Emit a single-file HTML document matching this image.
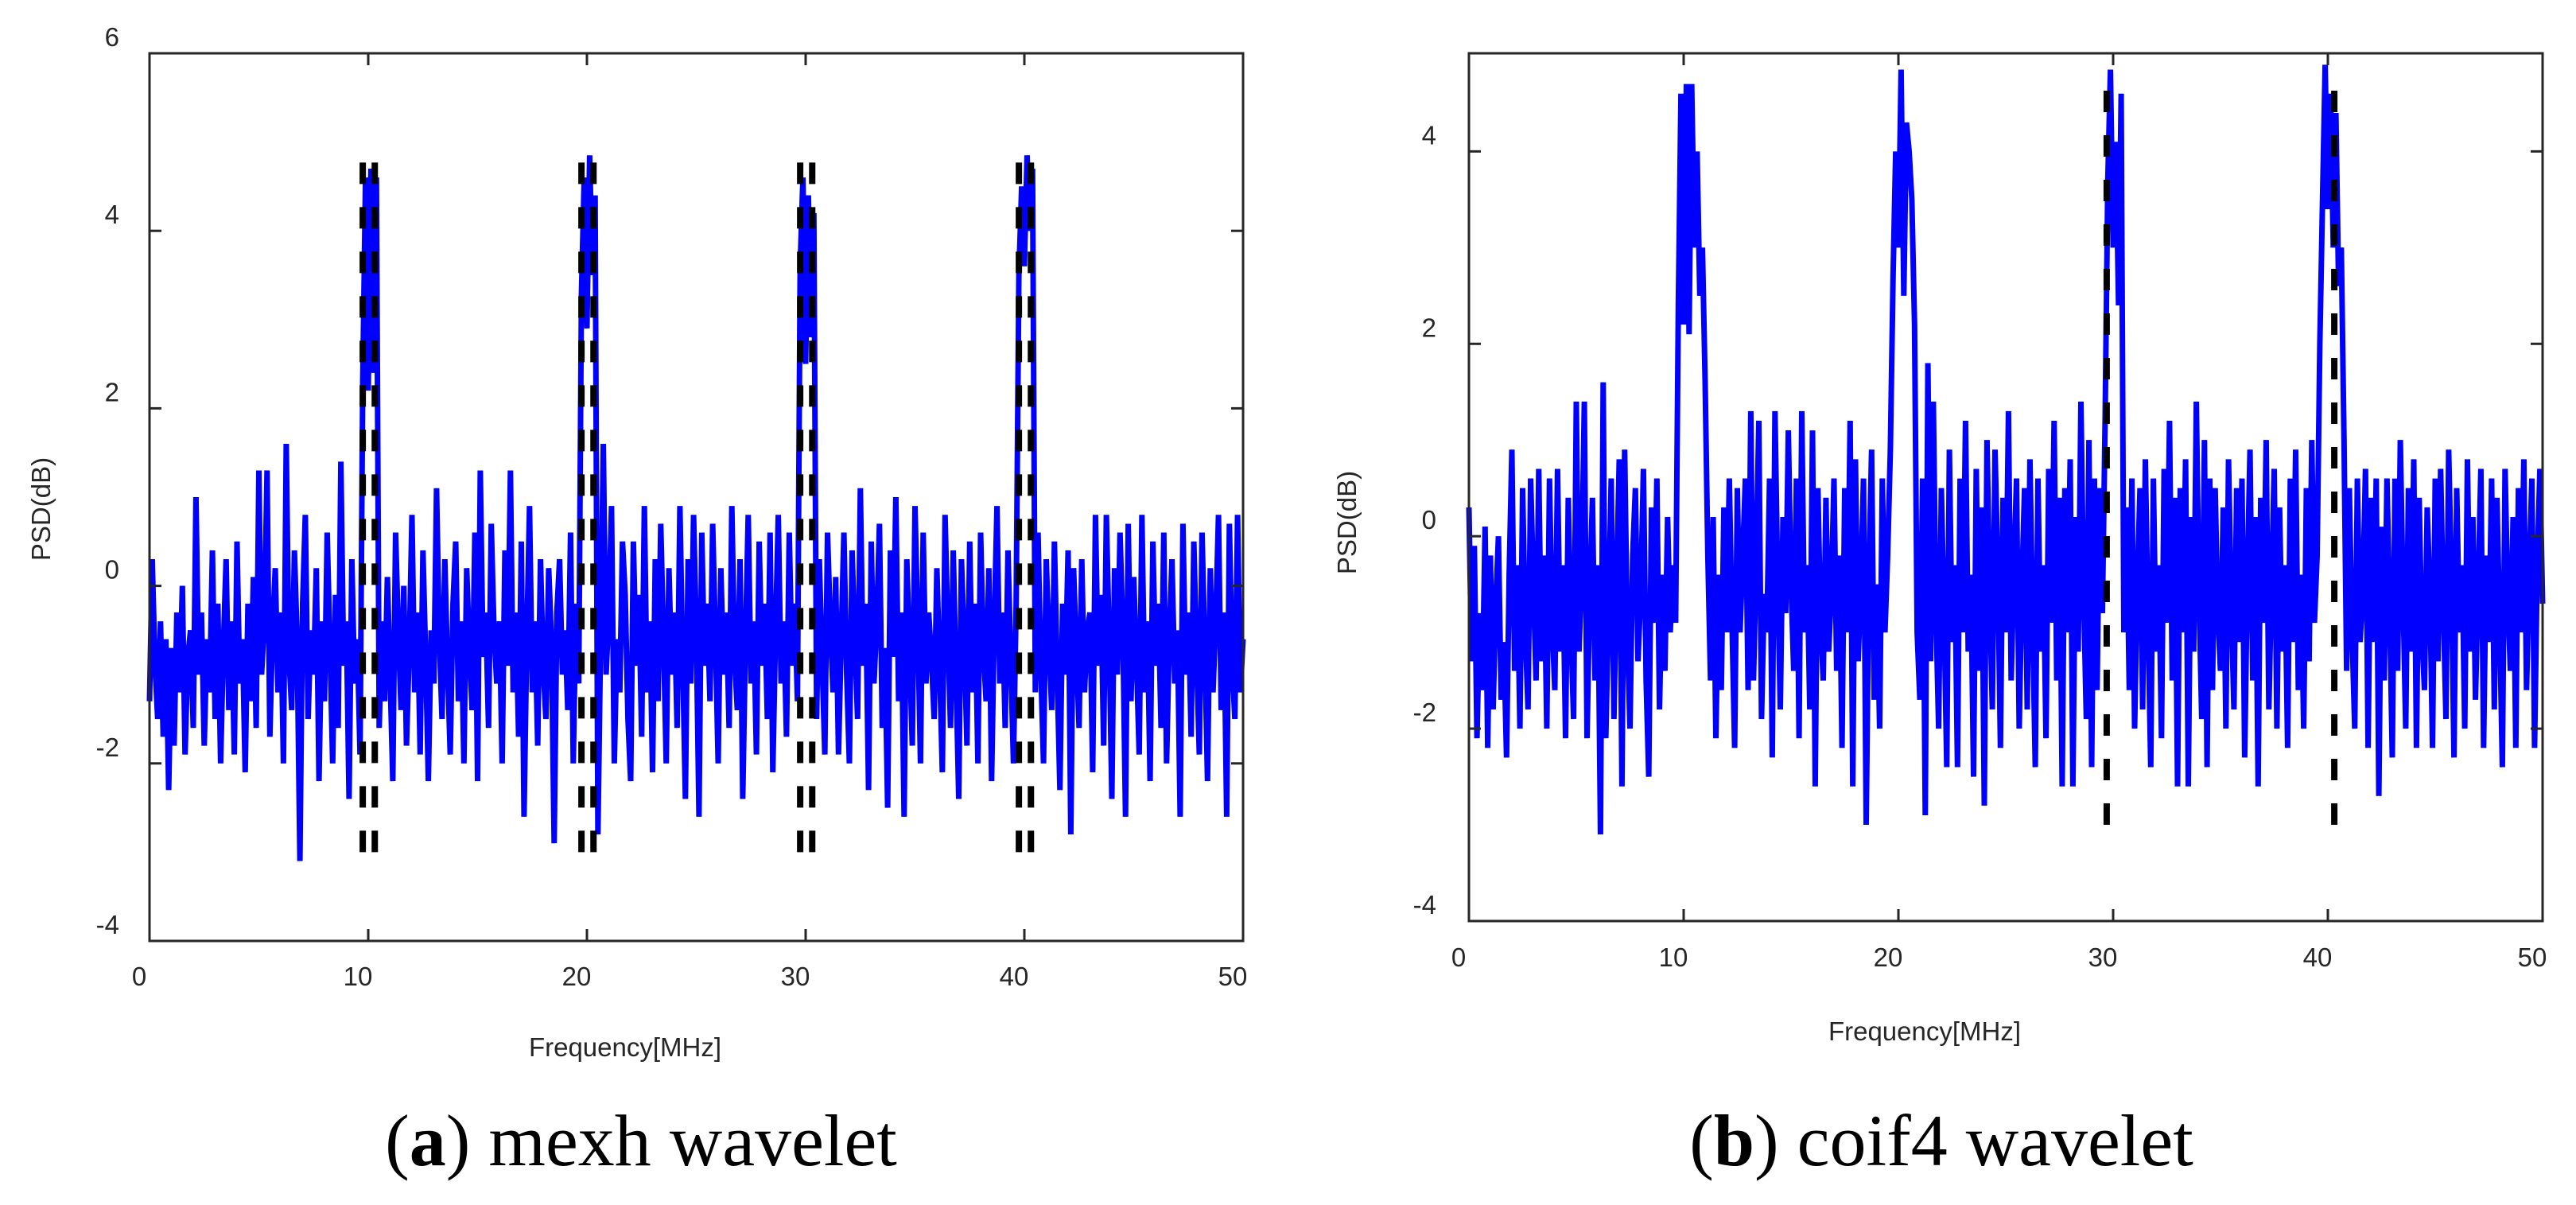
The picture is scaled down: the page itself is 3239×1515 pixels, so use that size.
<!DOCTYPE html>
<html>
<head>
<meta charset="utf-8">
<style>
  html, body { margin: 0; padding: 0; background: #ffffff; }
  svg { display: block; }
  .tick { font-family: "Liberation Sans", sans-serif; font-size: 33px; fill: #262626; }
  .cap { font-family: "Liberation Serif", serif; font-size: 92px; fill: #000; }
</style>
</head>
<body>
<svg id="fig" width="3239" height="1515" viewBox="0 0 3239 1515" xmlns="http://www.w3.org/2000/svg">
  <g id="panelA"></g>
  <g id="panelB"></g>
  <text class="cap" x="806" y="1465" text-anchor="middle">(<tspan font-weight="bold">a</tspan>) mexh wavelet</text>
  <text class="cap" x="2441" y="1465" text-anchor="middle">(<tspan font-weight="bold">b</tspan>) coif4 wavelet</text>
</svg>
<script>
// ---- data: PSD sampled every 0.125 MHz from 0 to 50 (8 samples per MHz per row) ----
const freqStep = 0.125;
const psdMexh = [
-1.3,0.3,-0.9,-1.5,-0.4,-1.7,-0.6,-2.3,
-0.7,-1.8,-0.3,-1.2,0.0,-1.9,-0.8,-0.5,
-1.6,1.0,-1.0,-0.3,-1.8,-0.6,-1.2,0.4,
-1.5,-0.2,-2.0,-0.7,0.3,-1.4,-0.4,-1.9,
0.5,-1.1,-0.6,-2.1,-0.2,-1.3,0.1,-1.6,
1.3,-1.0,-0.4,1.3,-1.7,-0.5,0.2,-1.2,
-0.3,-2.0,1.6,-0.8,-1.4,0.4,-0.6,-3.1,
-0.2,0.8,-1.5,-0.5,-1.0,0.2,-2.2,-0.4,
-1.3,0.6,-0.7,-2.0,-0.1,-1.6,1.4,-0.9,
-0.4,-2.4,0.3,-1.1,-0.6,-1.9,2.3,4.6,
2.2,4.7,2.4,4.6,-1.6,-0.4,-1.3,0.1,
-1.0,-2.2,0.6,-0.5,-1.4,0.0,-1.8,-0.7,
0.8,-1.2,-0.3,-1.9,0.4,-0.8,-2.2,-0.5,
-1.1,1.1,-0.6,-1.5,0.3,-0.9,-1.9,-0.2,
0.5,-1.3,-0.4,-2.0,0.2,-0.7,-1.4,0.6,
-2.2,1.3,-0.8,-0.3,-1.6,0.7,-0.5,-1.1,
-0.4,-2.0,0.4,-0.9,1.3,-1.2,-0.3,-1.7,
0.5,-2.6,-0.6,0.9,-1.2,-0.4,-1.8,0.3,
-0.9,-1.5,0.2,-0.6,-2.9,-0.3,0.3,-1.0,
-0.5,-1.4,0.6,-2.0,-0.2,-1.1,3.3,4.6,
2.9,4.85,3.5,4.4,-2.8,-0.6,1.6,-1.0,
-0.3,0.9,-2.0,-0.6,-1.2,0.5,-0.1,-1.5,
-2.2,0.5,-0.9,-0.1,-1.7,0.9,-1.2,-0.4,
-2.1,0.3,-1.3,0.7,-0.6,-2.0,0.2,-1.0,
-0.3,-1.6,0.9,-0.8,-2.4,0.3,-1.1,0.8,
-0.5,-2.6,0.6,-0.9,-0.2,-1.3,0.7,-0.6,
-2.0,0.2,-1.0,-0.3,-1.6,0.9,-0.8,-1.4,
0.3,-2.4,-0.6,0.8,-1.1,-0.4,-1.9,0.5,
-0.9,-0.2,-1.5,0.6,-2.1,-0.5,0.8,-1.1,
-0.4,-1.7,0.6,-0.9,-0.2,-1.3,3.6,4.6,
2.5,4.4,2.8,4.2,-1.5,0.3,-0.8,-1.9,
0.6,-0.4,-1.2,0.1,-1.9,-0.6,0.6,-1.0,
-2.0,0.4,-0.6,-1.5,1.1,-0.9,-0.2,-2.3,
0.5,-1.1,-0.4,0.7,-1.6,-0.7,-2.5,0.4,
-0.8,1.0,-1.3,-0.3,-2.6,0.3,-0.7,-1.8,
0.9,-0.4,-2.0,0.6,-1.1,-0.3,-0.8,-1.5,
0.2,-0.9,-2.1,0.8,-0.5,-1.6,0.4,-1.0,
-2.4,0.3,-0.6,-1.8,0.5,-1.2,-0.2,-2.0,
0.6,-0.7,-1.3,0.2,-2.2,-0.4,0.9,-1.1,
-0.3,-1.6,0.4,-0.8,-2.0,-0.2,3.5,4.5,
3.6,4.85,4.0,4.7,-1.2,0.6,-0.9,-2.0,
0.3,-0.6,-1.4,0.5,-1.0,-2.3,-0.2,-1.0,
0.4,-2.8,0.2,-0.7,-1.6,0.3,-1.2,-0.5,
-0.3,-2.1,0.8,-0.9,-0.1,-1.8,0.8,-0.6,
-2.4,0.2,-1.0,0.6,-0.5,-2.6,0.7,-1.3,
0.1,-0.8,-1.9,0.8,-1.2,-0.4,-2.2,0.5,
-0.9,-0.2,-1.6,0.6,-2.0,-0.6,0.3,-1.1,
-0.5,-2.6,0.7,-1.0,-0.3,-1.7,0.5,-0.8,
-1.9,0.6,-0.7,-2.2,0.2,-1.2,-0.4,0.8,
-1.4,-0.3,-2.6,0.7,-0.9,-1.5,0.8,-1.2,
-0.6
];
const psdCoif4 = [
0.3,-1.3,-0.1,-2.1,-0.8,-1.6,0.1,-2.2,
-0.2,-1.8,-0.7,0.0,-1.7,-1.1,-2.3,-0.4,
0.9,-1.4,-0.3,-2.0,0.5,-1.0,-1.8,0.6,
-0.5,-1.5,0.7,-1.3,-0.2,-2.0,0.6,-0.9,
-1.6,0.7,-1.2,-0.3,-2.1,0.4,-1.0,-1.9,
1.4,-1.2,-0.4,1.4,-2.1,-0.6,0.4,-1.5,
-0.3,-3.1,1.6,-2.1,-0.8,0.6,-1.9,-0.5,
0.8,-2.6,0.9,-1.0,-2.0,-0.2,0.5,-1.3,
-0.6,0.7,-1.5,-2.5,0.3,-0.9,0.6,-1.8,
-0.4,-1.4,0.2,-1.0,-0.3,-0.9,2.4,4.6,
2.2,4.7,2.1,4.7,3.0,4.0,2.5,3.0,
1.6,-0.2,-1.5,0.2,-2.1,-0.4,-1.6,0.3,
-1.0,0.6,-0.9,-2.2,0.5,-1.0,-0.2,0.6,
-1.6,1.3,-1.5,-0.3,1.2,-1.9,-0.6,-1.0,
0.6,-2.3,1.3,-0.4,-1.8,0.2,-0.8,1.1,
-0.5,-1.4,0.6,-2.1,1.3,-1.0,-0.3,-1.8,
1.1,-2.6,0.5,-0.9,-1.5,0.4,-1.2,-0.6,
0.6,-1.4,-0.2,-2.2,0.5,-1.0,1.2,-2.6,
0.8,-1.3,-0.5,0.6,-3.0,-0.4,0.9,-1.7,
-0.5,-2.0,0.6,-1.0,-0.2,0.9,2.7,4.0,
3.0,4.85,2.5,4.3,4.0,3.5,2.2,-1.0,
-1.7,0.6,-2.9,1.8,-1.3,1.4,-0.8,-2.0,
0.5,-0.8,-2.4,0.9,-1.1,-0.3,-2.4,0.6,
-1.0,1.2,-1.2,-0.4,-2.5,0.7,-1.4,0.3,
-2.8,1.0,-0.6,-1.8,0.9,-0.3,-2.2,0.4,
-1.0,1.3,-1.5,-0.4,0.6,-2.0,-0.5,0.5,
-1.8,0.8,-0.9,-2.4,0.6,-1.2,-0.3,-2.1,
0.7,-0.9,1.2,-1.5,0.4,-2.6,0.5,-1.0,
0.8,-2.6,0.2,-1.2,1.4,-0.6,-1.9,1.0,
-2.4,0.6,-1.6,0.5,-0.8,1.2,3.7,4.85,
3.0,4.1,2.4,4.6,-1.0,0.3,-1.6,0.6,
-2.0,-0.5,0.5,-1.8,0.8,-0.9,-2.4,0.6,
-1.2,-0.3,-2.1,0.7,-0.9,1.2,-1.5,0.4,
-2.6,0.5,-1.0,0.8,-2.6,0.2,-1.2,1.4,
-0.6,-1.9,1.0,-2.4,0.6,-1.6,0.5,-0.8,
-1.4,0.3,-2.0,0.8,-0.7,-1.8,0.5,-1.1,
0.6,-2.3,-0.4,0.9,-1.5,0.2,-2.6,0.4,
-0.9,1.0,-1.8,-0.5,0.7,-2.0,0.3,-1.2,
-0.3,-2.2,0.6,-1.1,0.9,-1.6,-0.4,-2.0,
0.5,-1.3,1.0,-0.9,-0.2,2.0,3.5,4.9,
3.4,4.6,3.0,4.4,2.6,3.0,1.0,-1.4,
0.5,-1.0,-2.0,0.6,-1.1,-0.6,0.7,-2.2,
0.4,-1.1,0.6,-2.7,0.1,-1.5,0.6,-0.7,
-2.3,0.6,-1.4,1.0,-0.6,-2.0,0.5,-1.2,
0.8,-2.2,0.4,-1.0,-1.6,0.3,-0.6,-2.2,
0.6,-1.3,0.7,-0.7,-1.9,0.9,-0.4,-2.3,
0.5,-1.0,-0.3,-2.0,0.8,-1.2,0.2,-1.7,
-0.5,0.7,-2.2,-0.2,-1.1,0.6,-1.8,0.4,
-0.9,-2.4,0.7,-0.6,-1.4,0.2,-2.2,0.5,
-1.0,0.8,-1.6,-0.4,0.6,-2.2,-0.3,0.7,
-0.7
];
// reference (dashed) lines
const dashFreqA = [9.75, 10.3, 19.75, 20.3, 29.75, 30.3, 39.75, 40.3];
const dashFreqB = [29.7, 40.3];
const dashTop = 4.85;
const dashBottom = -3.0;
// ticks
const xTicks = [0, 10, 20, 30, 40, 50];
const xTickLabels = ["0", "10", "20", "30", "40", "50"];
const yTicksA = [-4, -2, 0, 2, 4, 6];
const yTickLabelsA = ["-4", "-2", "0", "2", "4", "6"];
const yTicksB = [-4, -2, 0, 2, 4];
const yTickLabelsB = ["-4", "-2", "0", "2", "4"];

const NS = "http://www.w3.org/2000/svg";
function mk(tag, attrs, parent) {
  const e = document.createElementNS(NS, tag);
  for (const k in attrs) e.setAttribute(k, attrs[k]);
  parent.appendChild(e);
  return e;
}

function drawPanel(g, cfg) {
  const sx = v => cfg.left + (v - cfg.xMin) / (cfg.xMax - cfg.xMin) * (cfg.right - cfg.left);
  const sy = v => cfg.bottom - (v - cfg.yMin) / (cfg.yMax - cfg.yMin) * (cfg.bottom - cfg.top);

  const pts = cfg.series.map((v, i) => sx(i * freqStep).toFixed(1) + "," + sy(v).toFixed(1)).join(" ");
  const line = mk("polyline", {points: pts, fill: "none", stroke: "#0000ff", "stroke-width": 7, "stroke-linejoin": "miter", "stroke-miterlimit": 3}, g);
  
  

  cfg.dashes.forEach(f => {
    const d = mk("line", {x1: sx(f), x2: sx(f), y1: sy(dashBottom), y2: sy(dashTop), stroke: "#000", "stroke-width": 8, "stroke-dasharray": "27 29"}, g);
    
    
  });

  const frame = mk("rect", {x: cfg.left, y: cfg.top, width: cfg.right - cfg.left, height: cfg.bottom - cfg.top, fill: "none", stroke: "#262626", "stroke-width": 3}, g);
  
  

  xTicks.forEach((t, i) => {
    const x = sx(t);
    const tk1 = mk("line", {x1: x, x2: x, y1: cfg.bottom, y2: cfg.bottom - 15, stroke: "#262626", "stroke-width": 3}, g);
    
    
    const tk2 = mk("line", {x1: x, x2: x, y1: cfg.top, y2: cfg.top + 15, stroke: "#262626", "stroke-width": 3}, g);
    
    
    const lb = mk("text", {x: x - 13, y: cfg.xLabelY, "text-anchor": "middle", class: "tick"}, g);
    lb.textContent = xTickLabels[i];
    
    
  });
  cfg.yTicks.forEach((t, i) => {
    const y = sy(t);
    const tk1 = mk("line", {x1: cfg.left, x2: cfg.left + 15, y1: y, y2: y, stroke: "#262626", "stroke-width": 3}, g);
    
    
    const tk2 = mk("line", {x1: cfg.right, x2: cfg.right - 15, y1: y, y2: y, stroke: "#262626", "stroke-width": 3}, g);
    
    
    const lb = mk("text", {x: cfg.yLabelX, y: y - 9, "text-anchor": "end", class: "tick"}, g);
    lb.textContent = cfg.yTickLabels[i];
    
    
  });
  const xt = mk("text", {x: cfg.xTitleX, y: cfg.xTitleY, "text-anchor": "middle", class: "tick"}, g);
  xt.textContent = "Frequency[MHz]";
  
  
  const yt = mk("text", {x: 0, y: 0, "text-anchor": "middle", class: "tick", transform: "translate(" + cfg.yTitleX + "," + cfg.yTitleY + ") rotate(-90)"}, g);
  yt.textContent = "PSD(dB)";
  
  
}

drawPanel(document.getElementById("panelA"), {
  left: 188, right: 1563, top: 67, bottom: 1183,
  xMin: 0, xMax: 50, yMin: -4, yMax: 6,
  series: psdMexh, dashes: dashFreqA,
  yTicks: yTicksA, yTickLabels: yTickLabelsA,
  xLabelY: 1239, yLabelX: 150,
  xTitleX: 786, xTitleY: 1328, yTitleX: 63, yTitleY: 640
});
drawPanel(document.getElementById("panelB"), {
  left: 1847, right: 3197, top: 67, bottom: 1158,
  xMin: 0, xMax: 50, yMin: -4, yMax: 5.02,
  series: psdCoif4, dashes: dashFreqB,
  yTicks: yTicksB, yTickLabels: yTickLabelsB,
  xLabelY: 1215, yLabelX: 1806,
  xTitleX: 2420, xTitleY: 1308, yTitleX: 1705, yTitleY: 657
});
</script>
</body>
</html>
